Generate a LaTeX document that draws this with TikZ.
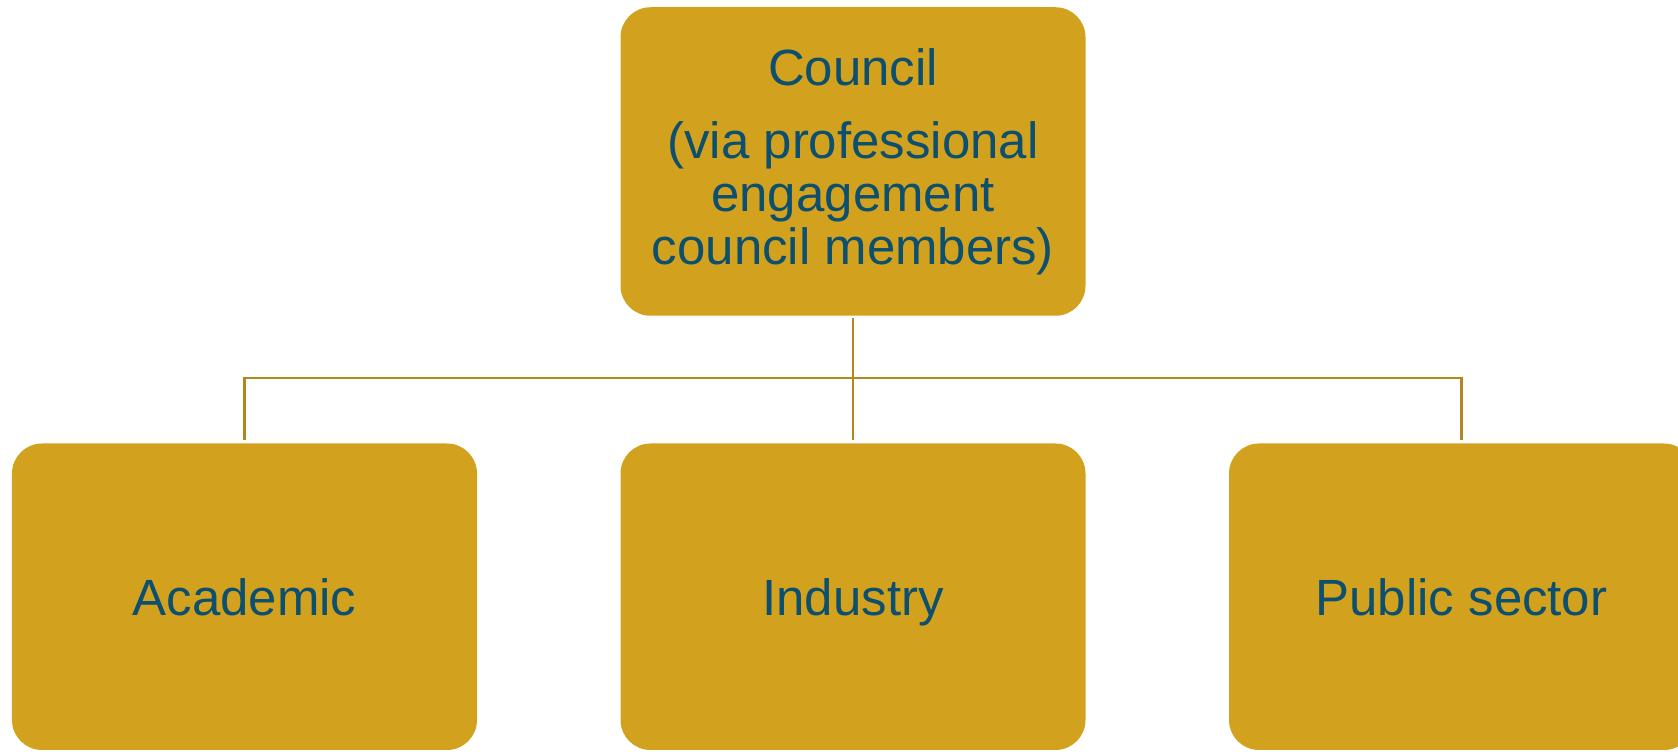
\documentclass[tikz,border=0pt]{standalone}
\usepackage{fontspec}
\setmainfont{Liberation Sans}
\usepackage{tikz}
\usetikzlibrary{shapes,arrows}
\definecolor{boxgold}{RGB}{210,162,30}
\definecolor{linkgold}{RGB}{176,136,30}
\definecolor{textblue}{RGB}{12,79,110}
\tikzstyle{block} = [rectangle, fill=boxgold, text=textblue, align=center, rounded corners=0.6cm, minimum
width=9.3cm, minimum height=6.17cm, font=\fontsize{29}{30.2}\selectfont]
\tikzstyle{unit} = [block, minimum height=6.13cm, text depth=0pt]
\tikzstyle{line} = [draw, color=linkgold, line width=1.5pt]

\begin{document}
\begin{tikzpicture}[node distance = 12.17cm, auto]
			\useasboundingbox (0,0) rectangle (33.56,15.04);
			\clip (0,0) rectangle (33.56,15.04);
			\node [block] (council) at (17.06,11.81) {Council\\[0.4cm](via professional\\engagement\\council members)};
			\node [unit, below of=council, node distance=8.705cm] (industry) {Industry};
			\node [unit, left of=industry] (academic) {Academic};
			\node [unit, right of=industry] (public) {Public sector};
			\coordinate (hub) at ([yshift=-1.24cm]council.south);
			\path [line, shorten <=0.04cm] (council) -- (hub);
			\path [line, shorten >=0.06cm] (hub) -| (academic);
			\path [line, shorten >=0.06cm] (hub) -- (industry);
			\path [line, shorten >=0.06cm] (hub) -| (public);
		\end{tikzpicture}
\end{document}
